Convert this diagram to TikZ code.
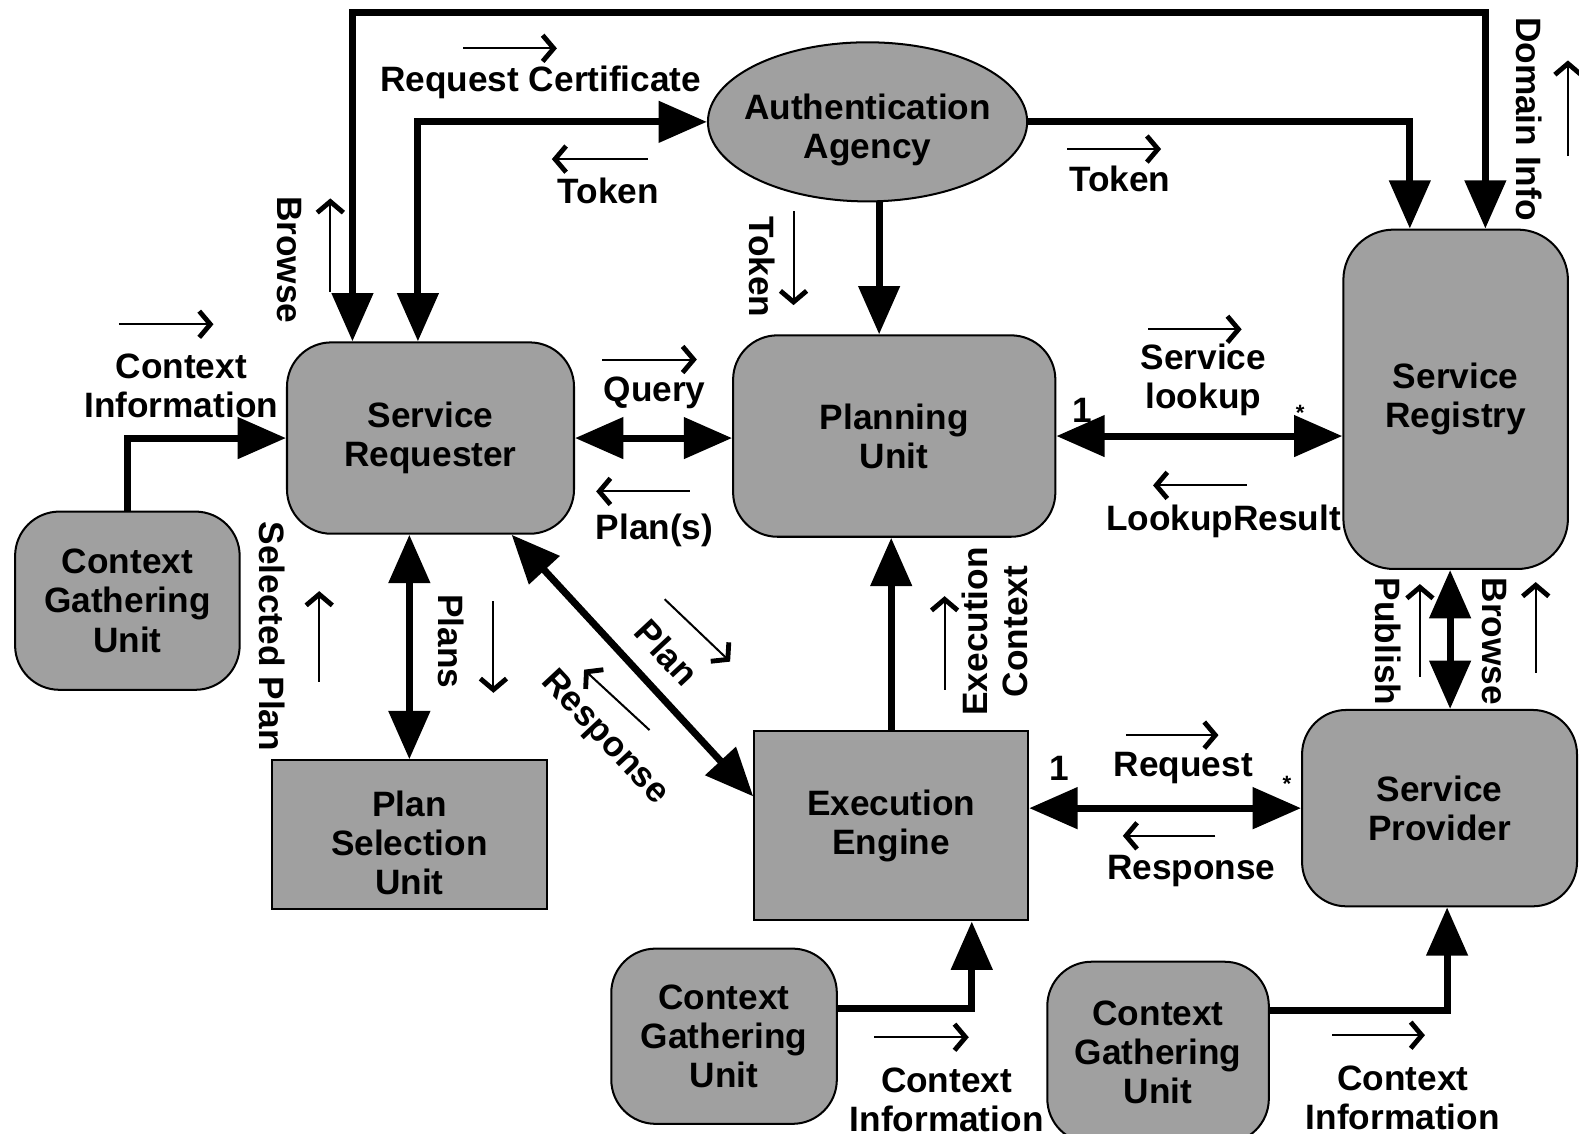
\documentclass[tikz,border=0pt]{standalone}
\usepackage{fontspec}
\setmainfont{Liberation Sans}
\usetikzlibrary{arrows.meta,shapes.geometric}
\definecolor{box}{RGB}{160,160,160}
\tikzset{
  every picture/.style={line width=1pt},
  every node/.style={font=\fontsize{17.5}{19.5}\selectfont\bfseries, align=center},
  % Bausteine
  unit/.style={draw, fill=box, rounded corners=22pt, inner sep=0pt},
  block/.style={draw, fill=box, inner sep=0pt},
  agency/.style={draw, fill=box, ellipse, inner sep=0pt},
  % Verbindungen
  big/.style={line width=3.5pt, line join=miter, >={Triangle[length=24pt,width=20pt]}},
  sarr/.style={line width=1pt, ->, >={Straight Barb[length=5.5pt,width=13pt,line width=2.4pt]}},
  mult/.style={font=\fontsize{11}{11}\selectfont\bfseries},
}
\begin{document}
\begin{tikzpicture}[x=0.5pt, y=-0.5pt]
  \useasboundingbox (0,0) rectangle (1568,1126);
  % Einheiten
  \node[unit, minimum width=142.5pt, minimum height=95pt] (sreq) at (427.5,435) {Service\\Requester};
  \node[unit, minimum width=160pt, minimum height=100pt] (pu) at (888,433) {Planning\\Unit};
  \node[unit, rounded corners=25pt, minimum width=111.5pt, minimum height=168.5pt] (sreg) at (1445.5,396.5) {Service\\Registry};
  \node[agency, minimum width=158.5pt, minimum height=79pt,
    label={[yshift=-4pt]center:Authentication\\Agency}] (auth) at (861.5,121) {};
  \node[unit, minimum width=111.5pt, minimum height=88.5pt] (cgu1) at (126.5,596.5) {Context\\Gathering\\Unit};
  \node[block, minimum width=136.5pt, minimum height=74pt,
    label={[yshift=-4pt]center:Plan\\Selection\\Unit}] (psu) at (406.5,829) {};
  \node[block, minimum width=136pt, minimum height=94pt] (ee) at (885,820) {Execution\\Engine};
  \node[unit, minimum width=136.5pt, minimum height=97.5pt] (sp) at (1429.5,802.5) {Service\\Provider};
  \node[unit, minimum width=112pt, minimum height=87pt] (cgu2) at (719,1029) {Context\\Gathering\\Unit};
  \node[unit, minimum width=110pt, minimum height=90pt] (cgu3) at (1150,1045) {Context\\Gathering\\Unit};
  % Hilfspunkte fuer die Knickpfeile
  \coordinate (topl) at (350,12);
  \coordinate (topr) at (1475,12);
  \coordinate (rc) at (415,118);
  \coordinate (tk) at (1400,118);
  \coordinate (ax) at (873,0);
  \coordinate (pb) at (1440,0);
  \coordinate (c2) at (965,1001);
  \coordinate (c3) at (1437,1003);
  % Verbindungen
  \draw[big, <->] (sreq.north -| topl) -- (topl) -- (topr) -- (sreg.north -| topr);
  \draw[big, <->] (sreq.north -| rc) |- (auth.west);
  \draw[big, ->] (auth.east) -| (sreg.north -| tk);
  \draw[big, ->] (auth.south -| ax) -- (pu.north -| ax);
  \draw[big, ->] (cgu1.north) |- (sreq.west);
  \draw[big, <->] (sreq.east) -- (sreq.east -| pu.west);
  \draw[big, <->] (pu.east) -- (pu.east -| sreg.west);
  \draw[big, <->] (sreq.south -| psu.north) -- (psu.north);
  \draw[big, <->] (sreq.-50) -- (ee.168);
  \draw[big, ->] (ee.north) -- (ee.north |- pu.south);
  \draw[big, <->] (ee.east |- sp.west) -- (sp.west);
  \draw[big, <->] (sreg.south -| pb) -- (sp.north -| pb);
  \draw[big, ->] (cgu2.east |- c2) -| (ee.south -| c2);
  \draw[big, ->] (cgu3.east |- c3) -| (sp.south -| c3);
  % Beschriftungen
  \node (rqcert) at (537,82) {Request Certificate};
  \node (tok1) at (604,190) {Token};
  \node (tok2) at (1112,178) {Token};
  \node[rotate=-90] (tok3) at (757,265) {Token};
  \node[rotate=-90] (brw1) at (287,258) {Browse};
  \node[rotate=-90] (dinfo) at (1518,118) {Domain Info};
  \node (ctx1) at (180,383) {Context\\Information};
  \node (query) at (650,390) {Query};
  \node (plns) at (650,527) {Plan(s)};
  \node (lookup) at (1195,377) {Service\\lookup};
  \node (lres) at (1215,518) {LookupResult};
  \node (one1) at (1075,408) {1};
  \node[mult] (st1) at (1291,410) {*};
  \node[rotate=-90] (selpl) at (270,632) {Selected Plan};
  \node[rotate=-90] (plans) at (448,637) {Plans};
  \node[rotate=-47] (plan) at (662,648) {Plan};
  \node[rotate=-47] (resp1) at (600,733) {Response};
  \node[rotate=90] (exctx) at (988,627) {Execution\\Context};
  \node (one2) at (1052,763) {1};
  \node[mult] (st2) at (1278,778) {*};
  \node (rqst) at (1175,763) {Request};
  \node (resp2) at (1183,865) {Response};
  \node[rotate=-90] (publ) at (1378,637) {Publish};
  \node[rotate=-90] (brw2) at (1484,637) {Browse};
  \node (ctx2) at (940,1092) {Context\\Information};
  \node (ctx3) at (1393,1090) {Context\\Information};
  % kleine Richtungspfeile
  \draw[sarr] (460,48) -- (553,48);
  \draw[sarr] (643,158) -- (548,158);
  \draw[sarr] (1060,148) -- (1153,148);
  \draw[sarr] (788,210) -- (788,303);
  \draw[sarr] (328,290) -- (328,197);
  \draw[sarr] (1557,155) -- (1557,60);
  \draw[sarr] (118,322) -- (212,322);
  \draw[sarr] (598,357) -- (692,357);
  \draw[sarr] (685,488) -- (592,488);
  \draw[sarr] (1140,327) -- (1233,327);
  \draw[sarr] (1238,482) -- (1145,482);
  \draw[sarr] (317,677) -- (317,587);
  \draw[sarr] (490,597) -- (490,688);
  \draw[sarr] (660,595) -- (725,657);
  \draw[sarr] (645,725) -- (580,665);
  \draw[sarr] (938,685) -- (938,592);
  \draw[sarr] (1118,730) -- (1210,730);
  \draw[sarr] (1207,830) -- (1115,830);
  \draw[sarr] (1410,672) -- (1410,580);
  \draw[sarr] (1525,668) -- (1525,578);
  \draw[sarr] (868,1030) -- (962,1030);
  \draw[sarr] (1323,1028) -- (1415,1028);
\end{tikzpicture}
\end{document}
